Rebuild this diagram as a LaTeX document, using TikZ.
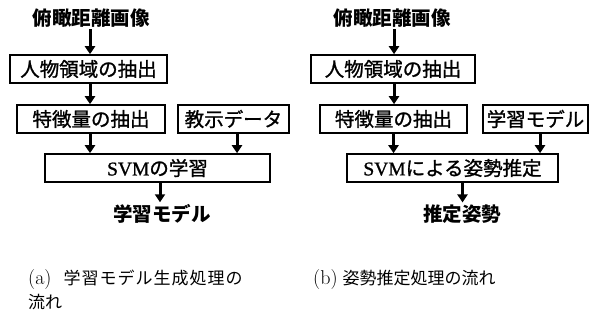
\documentclass[tikz,border=0pt]{standalone}
\usepackage{fontspec}
\newfontfamily\jp{Noto Sans CJK JP}
\newfontfamily\jpbox[FakeBold=1.2]{Noto Sans CJK JP}
\newfontfamily\jpwide[LetterSpace=6]{Noto Sans CJK JP}
\newfontfamily\svmfont[FakeBold=1]{Liberation Serif}
\usetikzlibrary{positioning,arrows.meta}
\tikzset{
	stage/.style = {draw, line width=1.6pt, minimum height=28pt, inner sep=0pt,
	 font=\jpbox\fontsize{19.5}{20}\selectfont},
	io/.style = {inner sep=2pt, font=\jp\bfseries\fontsize{19.5}{20}\selectfont},
	flow/.style = {line width=3pt, -{Triangle[width=10pt,length=8pt]}},
	subcap/.style = {inner sep=0pt, align=left, font=\fontsize{17}{24}\selectfont}
	}
\newcommand{\sublabel}[1]{{\fontsize{20}{24}\selectfont(#1)}}

\begin{document}
\begin{tikzpicture}[x=1pt, y=1pt]
\useasboundingbox (0,0) rectangle (593,-322);

% NODES
% (a) learning
\node (lsrc) [io] at (91,-18) {俯瞰距離画像};
\node (lperson) [stage, minimum width=157pt] at (88.5,-69) {人物領域の抽出};
\node (lfeat) [stage, minimum width=148pt] at (91,-119) {特徴量の抽出};
\node (lteach) [stage, minimum width=111pt] at (233.5,-119) {教示データ};
\node (lsvm) [stage, minimum width=225pt] at (157.5,-168) {{\svmfont SVM}の学習};
\node (lout) [io] at (162,-214) {学習モデル};
% (b) estimation
\node (rsrc) [io] at (392,-18) {俯瞰距離画像};
\node (rperson) [stage, minimum width=164pt] at (393,-69) {人物領域の抽出};
\node (rfeat) [stage, minimum width=147pt] at (393.5,-119) {特徴量の抽出};
\node (rmodel) [stage, minimum width=105pt] at (535.5,-119) {学習モデル};
\node (rsvm) [stage, minimum width=211pt] at (452.5,-168) {{\svmfont SVM}による姿勢推定};
\node (rout) [io] at (462,-214) {推定姿勢};
% captions
\node (capa) [subcap, anchor=base west] at (28,-308) {\sublabel{a}\hspace{12pt}{\jpwide 学習モデル生成処理の}\\{\jp 流れ}};
\node (capb) [subcap, anchor=base west] at (313,-284) {\sublabel{b} {\jp 姿勢推定処理の流れ}};

%CONNECTIONS
\draw [flow] ([xshift=-1pt]lsrc.south) -- ([xshift=-1pt]lsrc.south |- lperson.north);
\draw [flow] ([xshift=1.5pt]lperson.south) -- ([xshift=1.5pt]lperson.south |- lfeat.north);
\draw [flow] ([xshift=-1pt]lfeat.south) -- ([xshift=-1pt]lfeat.south |- lsvm.north);
\draw [flow] ([xshift=3.5pt]lteach.south) -- ([xshift=3.5pt]lteach.south |- lsvm.north);
\draw [flow] ([xshift=2.5pt]lsvm.south) -- ([xshift=2.5pt]lsvm.south |- lout.north);
\draw [flow] ([xshift=2pt]rsrc.south) -- ([xshift=2pt]rsrc.south |- rperson.north);
\draw [flow] ([xshift=1pt]rperson.south) -- ([xshift=1pt]rperson.south |- rfeat.north);
\draw [flow] (rfeat.south) -- (rfeat.south |- rsvm.north);
\draw [flow] ([xshift=4.5pt]rmodel.south) -- ([xshift=4.5pt]rmodel.south |- rsvm.north);
\draw [flow] ([xshift=10pt]rsvm.south) -- ([xshift=10pt]rsvm.south |- rout.north);

\end{tikzpicture}
\end{document}
